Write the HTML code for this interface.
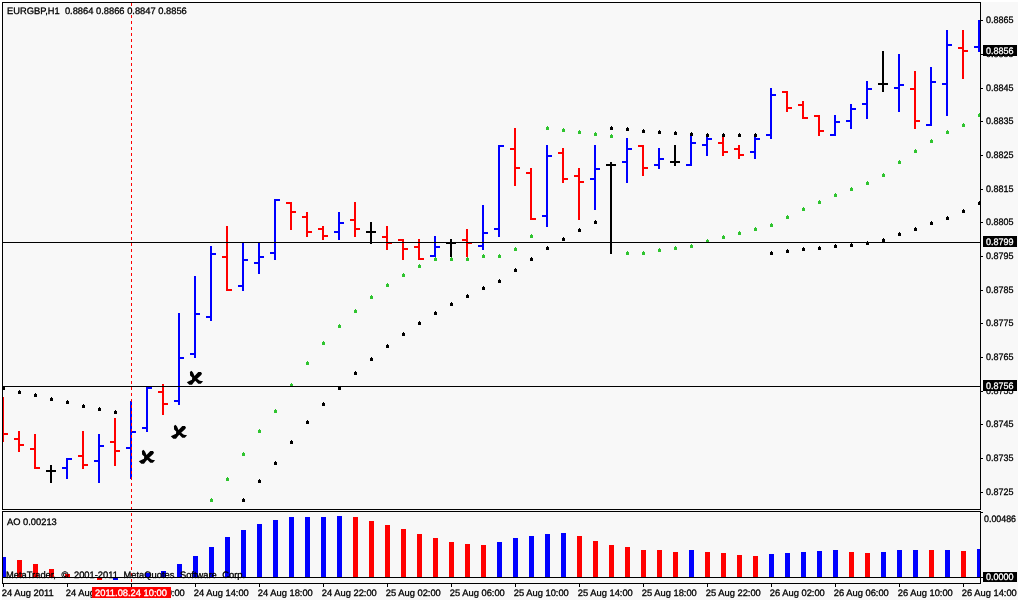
<!DOCTYPE html>
<html lang="en"><head><meta charset="utf-8"><title>EURGBP,H1</title>
<style>html,body{margin:0;padding:0;background:#f8f8f8;overflow:hidden}svg{display:block}text{text-rendering:geometricPrecision}</style>
</head><body>
<svg width="1018" height="600" viewBox="0 0 1018 600" shape-rendering="crispEdges">
<rect x="0" y="0" width="1018" height="600" fill="#f8f8f8"/>
<rect x="0" y="0" width="1018" height="2" fill="#ffffff"/>
<rect x="0" y="0" width="2" height="600" fill="#ffffff"/>
<defs><clipPath id="cm"><rect x="3" y="3" width="977" height="506"/></clipPath><clipPath id="ca"><rect x="3" y="512" width="977" height="71"/></clipPath></defs>
<rect x="2" y="2" width="979" height="1" fill="#000000"/>
<rect x="2" y="2" width="1" height="508" fill="#000000"/>
<rect x="980" y="2" width="1" height="508" fill="#000000"/>
<rect x="2" y="509" width="979" height="1" fill="#000000"/>
<rect x="2" y="511" width="979" height="1" fill="#000000"/>
<rect x="2" y="511" width="1" height="73" fill="#000000"/>
<rect x="980" y="511" width="1" height="73" fill="#000000"/>
<rect x="2" y="583" width="979" height="1" fill="#000000"/>
<g clip-path="url(#cm)">
<rect x="2" y="397" width="2" height="45" fill="#ff0000"/>
<rect x="4" y="433" width="4" height="2" fill="#ff0000"/>
<rect x="18" y="431" width="2" height="21" fill="#ff0000"/>
<rect x="14" y="438" width="4" height="2" fill="#ff0000"/>
<rect x="20" y="444" width="4" height="2" fill="#ff0000"/>
<rect x="34" y="434" width="2" height="35" fill="#ff0000"/>
<rect x="30" y="448" width="4" height="2" fill="#ff0000"/>
<rect x="36" y="467" width="4" height="2" fill="#ff0000"/>
<rect x="50" y="465" width="2" height="18" fill="#000000"/>
<rect x="46" y="470" width="4" height="2" fill="#000000"/>
<rect x="52" y="470" width="4" height="2" fill="#000000"/>
<rect x="66" y="458" width="2" height="21" fill="#0000ff"/>
<rect x="62" y="467" width="4" height="2" fill="#0000ff"/>
<rect x="68" y="458" width="4" height="2" fill="#0000ff"/>
<rect x="82" y="431" width="2" height="38" fill="#ff0000"/>
<rect x="78" y="455" width="4" height="2" fill="#ff0000"/>
<rect x="84" y="464" width="4" height="2" fill="#ff0000"/>
<rect x="98" y="434" width="2" height="49" fill="#0000ff"/>
<rect x="94" y="460" width="4" height="2" fill="#0000ff"/>
<rect x="100" y="445" width="4" height="2" fill="#0000ff"/>
<rect x="114" y="418" width="2" height="48" fill="#ff0000"/>
<rect x="110" y="441" width="4" height="2" fill="#ff0000"/>
<rect x="116" y="450" width="4" height="2" fill="#ff0000"/>
<rect x="130" y="401" width="2" height="78" fill="#0000ff"/>
<rect x="126" y="447" width="4" height="2" fill="#0000ff"/>
<rect x="132" y="431" width="4" height="2" fill="#0000ff"/>
<rect x="146" y="387" width="2" height="45" fill="#0000ff"/>
<rect x="142" y="427" width="4" height="2" fill="#0000ff"/>
<rect x="148" y="387" width="4" height="2" fill="#0000ff"/>
<rect x="162" y="384" width="2" height="31" fill="#ff0000"/>
<rect x="158" y="391" width="4" height="2" fill="#ff0000"/>
<rect x="164" y="403" width="4" height="2" fill="#ff0000"/>
<rect x="178" y="313" width="2" height="92" fill="#0000ff"/>
<rect x="174" y="400" width="4" height="2" fill="#0000ff"/>
<rect x="180" y="357" width="4" height="2" fill="#0000ff"/>
<rect x="194" y="276" width="2" height="82" fill="#0000ff"/>
<rect x="190" y="353" width="4" height="2" fill="#0000ff"/>
<rect x="196" y="313" width="4" height="2" fill="#0000ff"/>
<rect x="210" y="246" width="2" height="75" fill="#0000ff"/>
<rect x="206" y="316" width="4" height="2" fill="#0000ff"/>
<rect x="212" y="253" width="4" height="2" fill="#0000ff"/>
<rect x="226" y="226" width="2" height="65" fill="#ff0000"/>
<rect x="222" y="256" width="4" height="2" fill="#ff0000"/>
<rect x="228" y="289" width="4" height="2" fill="#ff0000"/>
<rect x="242" y="243" width="2" height="48" fill="#0000ff"/>
<rect x="238" y="285" width="4" height="2" fill="#0000ff"/>
<rect x="244" y="259" width="4" height="2" fill="#0000ff"/>
<rect x="258" y="243" width="2" height="31" fill="#0000ff"/>
<rect x="254" y="262" width="4" height="2" fill="#0000ff"/>
<rect x="260" y="256" width="4" height="2" fill="#0000ff"/>
<rect x="274" y="199" width="2" height="61" fill="#0000ff"/>
<rect x="270" y="252" width="4" height="2" fill="#0000ff"/>
<rect x="276" y="199" width="4" height="2" fill="#0000ff"/>
<rect x="290" y="202" width="2" height="28" fill="#ff0000"/>
<rect x="286" y="202" width="4" height="2" fill="#ff0000"/>
<rect x="292" y="211" width="4" height="2" fill="#ff0000"/>
<rect x="306" y="212" width="2" height="25" fill="#ff0000"/>
<rect x="302" y="216" width="4" height="2" fill="#ff0000"/>
<rect x="308" y="231" width="4" height="2" fill="#ff0000"/>
<rect x="322" y="226" width="2" height="14" fill="#ff0000"/>
<rect x="318" y="228" width="4" height="2" fill="#ff0000"/>
<rect x="324" y="235" width="4" height="2" fill="#ff0000"/>
<rect x="338" y="212" width="2" height="28" fill="#0000ff"/>
<rect x="334" y="231" width="4" height="2" fill="#0000ff"/>
<rect x="340" y="222" width="4" height="2" fill="#0000ff"/>
<rect x="354" y="202" width="2" height="35" fill="#ff0000"/>
<rect x="350" y="219" width="4" height="2" fill="#ff0000"/>
<rect x="356" y="228" width="4" height="2" fill="#ff0000"/>
<rect x="370" y="222" width="2" height="22" fill="#000000"/>
<rect x="366" y="231" width="4" height="2" fill="#000000"/>
<rect x="372" y="231" width="4" height="2" fill="#000000"/>
<rect x="386" y="226" width="2" height="24" fill="#ff0000"/>
<rect x="382" y="236" width="4" height="2" fill="#ff0000"/>
<rect x="388" y="242" width="4" height="2" fill="#ff0000"/>
<rect x="402" y="239" width="2" height="21" fill="#ff0000"/>
<rect x="398" y="239" width="4" height="2" fill="#ff0000"/>
<rect x="404" y="248" width="4" height="2" fill="#ff0000"/>
<rect x="418" y="239" width="2" height="21" fill="#ff0000"/>
<rect x="414" y="246" width="4" height="2" fill="#ff0000"/>
<rect x="420" y="258" width="4" height="2" fill="#ff0000"/>
<rect x="434" y="236" width="2" height="21" fill="#0000ff"/>
<rect x="430" y="255" width="4" height="2" fill="#0000ff"/>
<rect x="436" y="246" width="4" height="2" fill="#0000ff"/>
<rect x="450" y="239" width="2" height="18" fill="#000000"/>
<rect x="446" y="242" width="4" height="2" fill="#000000"/>
<rect x="452" y="242" width="4" height="2" fill="#000000"/>
<rect x="466" y="229" width="2" height="28" fill="#ff0000"/>
<rect x="462" y="239" width="4" height="2" fill="#ff0000"/>
<rect x="468" y="242" width="4" height="2" fill="#ff0000"/>
<rect x="482" y="205" width="2" height="45" fill="#0000ff"/>
<rect x="478" y="245" width="4" height="2" fill="#0000ff"/>
<rect x="484" y="232" width="4" height="2" fill="#0000ff"/>
<rect x="498" y="145" width="2" height="92" fill="#0000ff"/>
<rect x="494" y="228" width="4" height="2" fill="#0000ff"/>
<rect x="500" y="145" width="4" height="2" fill="#0000ff"/>
<rect x="514" y="128" width="2" height="58" fill="#ff0000"/>
<rect x="510" y="148" width="4" height="2" fill="#ff0000"/>
<rect x="516" y="167" width="4" height="2" fill="#ff0000"/>
<rect x="530" y="168" width="2" height="52" fill="#ff0000"/>
<rect x="526" y="172" width="4" height="2" fill="#ff0000"/>
<rect x="532" y="218" width="4" height="2" fill="#ff0000"/>
<rect x="546" y="145" width="2" height="82" fill="#0000ff"/>
<rect x="542" y="215" width="4" height="2" fill="#0000ff"/>
<rect x="548" y="155" width="4" height="2" fill="#0000ff"/>
<rect x="562" y="148" width="2" height="35" fill="#ff0000"/>
<rect x="558" y="152" width="4" height="2" fill="#ff0000"/>
<rect x="564" y="178" width="4" height="2" fill="#ff0000"/>
<rect x="578" y="168" width="2" height="52" fill="#ff0000"/>
<rect x="574" y="175" width="4" height="2" fill="#ff0000"/>
<rect x="580" y="181" width="4" height="2" fill="#ff0000"/>
<rect x="594" y="145" width="2" height="65" fill="#0000ff"/>
<rect x="590" y="178" width="4" height="2" fill="#0000ff"/>
<rect x="596" y="168" width="4" height="2" fill="#0000ff"/>
<rect x="610" y="162" width="2" height="92" fill="#000000"/>
<rect x="606" y="164" width="4" height="2" fill="#000000"/>
<rect x="612" y="164" width="4" height="2" fill="#000000"/>
<rect x="626" y="138" width="2" height="45" fill="#0000ff"/>
<rect x="622" y="161" width="4" height="2" fill="#0000ff"/>
<rect x="628" y="148" width="4" height="2" fill="#0000ff"/>
<rect x="642" y="145" width="2" height="31" fill="#ff0000"/>
<rect x="638" y="145" width="4" height="2" fill="#ff0000"/>
<rect x="644" y="167" width="4" height="2" fill="#ff0000"/>
<rect x="658" y="148" width="2" height="21" fill="#0000ff"/>
<rect x="654" y="164" width="4" height="2" fill="#0000ff"/>
<rect x="660" y="158" width="4" height="2" fill="#0000ff"/>
<rect x="674" y="145" width="2" height="21" fill="#000000"/>
<rect x="670" y="161" width="4" height="2" fill="#000000"/>
<rect x="676" y="161" width="4" height="2" fill="#000000"/>
<rect x="690" y="133" width="2" height="33" fill="#0000ff"/>
<rect x="686" y="164" width="4" height="2" fill="#0000ff"/>
<rect x="692" y="142" width="4" height="2" fill="#0000ff"/>
<rect x="706" y="137" width="2" height="19" fill="#0000ff"/>
<rect x="702" y="144" width="4" height="2" fill="#0000ff"/>
<rect x="708" y="138" width="4" height="2" fill="#0000ff"/>
<rect x="722" y="135" width="2" height="21" fill="#ff0000"/>
<rect x="718" y="142" width="4" height="2" fill="#ff0000"/>
<rect x="724" y="151" width="4" height="2" fill="#ff0000"/>
<rect x="738" y="145" width="2" height="14" fill="#ff0000"/>
<rect x="734" y="148" width="4" height="2" fill="#ff0000"/>
<rect x="740" y="154" width="4" height="2" fill="#ff0000"/>
<rect x="754" y="137" width="2" height="22" fill="#0000ff"/>
<rect x="750" y="151" width="4" height="2" fill="#0000ff"/>
<rect x="756" y="138" width="4" height="2" fill="#0000ff"/>
<rect x="770" y="88" width="2" height="51" fill="#0000ff"/>
<rect x="766" y="134" width="4" height="2" fill="#0000ff"/>
<rect x="772" y="94" width="4" height="2" fill="#0000ff"/>
<rect x="786" y="91" width="2" height="21" fill="#ff0000"/>
<rect x="782" y="91" width="4" height="2" fill="#ff0000"/>
<rect x="788" y="107" width="4" height="2" fill="#ff0000"/>
<rect x="802" y="101" width="2" height="18" fill="#ff0000"/>
<rect x="798" y="104" width="4" height="2" fill="#ff0000"/>
<rect x="804" y="117" width="4" height="2" fill="#ff0000"/>
<rect x="818" y="115" width="2" height="21" fill="#ff0000"/>
<rect x="814" y="115" width="4" height="2" fill="#ff0000"/>
<rect x="820" y="130" width="4" height="2" fill="#ff0000"/>
<rect x="834" y="115" width="2" height="21" fill="#0000ff"/>
<rect x="830" y="134" width="4" height="2" fill="#0000ff"/>
<rect x="836" y="121" width="4" height="2" fill="#0000ff"/>
<rect x="850" y="104" width="2" height="25" fill="#0000ff"/>
<rect x="846" y="120" width="4" height="2" fill="#0000ff"/>
<rect x="852" y="108" width="4" height="2" fill="#0000ff"/>
<rect x="866" y="81" width="2" height="38" fill="#0000ff"/>
<rect x="862" y="103" width="4" height="2" fill="#0000ff"/>
<rect x="868" y="88" width="4" height="2" fill="#0000ff"/>
<rect x="882" y="51" width="2" height="41" fill="#000000"/>
<rect x="878" y="83" width="4" height="2" fill="#000000"/>
<rect x="884" y="83" width="4" height="2" fill="#000000"/>
<rect x="898" y="54" width="2" height="58" fill="#0000ff"/>
<rect x="894" y="87" width="4" height="2" fill="#0000ff"/>
<rect x="900" y="84" width="4" height="2" fill="#0000ff"/>
<rect x="914" y="71" width="2" height="58" fill="#ff0000"/>
<rect x="910" y="88" width="4" height="2" fill="#ff0000"/>
<rect x="916" y="120" width="4" height="2" fill="#ff0000"/>
<rect x="930" y="67" width="2" height="59" fill="#0000ff"/>
<rect x="926" y="124" width="4" height="2" fill="#0000ff"/>
<rect x="932" y="81" width="4" height="2" fill="#0000ff"/>
<rect x="946" y="30" width="2" height="86" fill="#0000ff"/>
<rect x="942" y="83" width="4" height="2" fill="#0000ff"/>
<rect x="948" y="44" width="4" height="2" fill="#0000ff"/>
<rect x="962" y="30" width="2" height="49" fill="#ff0000"/>
<rect x="958" y="47" width="4" height="2" fill="#ff0000"/>
<rect x="964" y="50" width="4" height="2" fill="#ff0000"/>
<rect x="978" y="20" width="2" height="32" fill="#0000ff"/>
<rect x="974" y="46" width="4" height="2" fill="#0000ff"/>
<rect x="211" y="498" width="1" height="1" fill="#2fc42f"/>
<rect x="210" y="499" width="3" height="3" fill="#2fc42f"/>
<rect x="227" y="477" width="1" height="1" fill="#2fc42f"/>
<rect x="226" y="478" width="3" height="3" fill="#2fc42f"/>
<rect x="243" y="452" width="1" height="1" fill="#2fc42f"/>
<rect x="242" y="453" width="3" height="3" fill="#2fc42f"/>
<rect x="259" y="429" width="1" height="1" fill="#2fc42f"/>
<rect x="258" y="430" width="3" height="3" fill="#2fc42f"/>
<rect x="275" y="409" width="1" height="1" fill="#2fc42f"/>
<rect x="274" y="410" width="3" height="3" fill="#2fc42f"/>
<rect x="291" y="383" width="1" height="1" fill="#2fc42f"/>
<rect x="290" y="384" width="3" height="3" fill="#2fc42f"/>
<rect x="307" y="361" width="1" height="1" fill="#2fc42f"/>
<rect x="306" y="362" width="3" height="3" fill="#2fc42f"/>
<rect x="323" y="341" width="1" height="1" fill="#2fc42f"/>
<rect x="322" y="342" width="3" height="3" fill="#2fc42f"/>
<rect x="339" y="324" width="1" height="1" fill="#2fc42f"/>
<rect x="338" y="325" width="3" height="3" fill="#2fc42f"/>
<rect x="355" y="309" width="1" height="1" fill="#2fc42f"/>
<rect x="354" y="310" width="3" height="3" fill="#2fc42f"/>
<rect x="371" y="295" width="1" height="1" fill="#2fc42f"/>
<rect x="370" y="296" width="3" height="3" fill="#2fc42f"/>
<rect x="387" y="283" width="1" height="1" fill="#2fc42f"/>
<rect x="386" y="284" width="3" height="3" fill="#2fc42f"/>
<rect x="403" y="273" width="1" height="1" fill="#2fc42f"/>
<rect x="402" y="274" width="3" height="3" fill="#2fc42f"/>
<rect x="419" y="264" width="1" height="1" fill="#2fc42f"/>
<rect x="418" y="265" width="3" height="3" fill="#2fc42f"/>
<rect x="435" y="257" width="1" height="1" fill="#2fc42f"/>
<rect x="434" y="258" width="3" height="3" fill="#2fc42f"/>
<rect x="451" y="257" width="1" height="1" fill="#2fc42f"/>
<rect x="450" y="258" width="3" height="3" fill="#2fc42f"/>
<rect x="467" y="257" width="1" height="1" fill="#2fc42f"/>
<rect x="466" y="258" width="3" height="3" fill="#2fc42f"/>
<rect x="483" y="254" width="1" height="1" fill="#2fc42f"/>
<rect x="482" y="255" width="3" height="3" fill="#2fc42f"/>
<rect x="499" y="254" width="1" height="1" fill="#2fc42f"/>
<rect x="498" y="255" width="3" height="3" fill="#2fc42f"/>
<rect x="515" y="247" width="1" height="1" fill="#2fc42f"/>
<rect x="514" y="248" width="3" height="3" fill="#2fc42f"/>
<rect x="531" y="234" width="1" height="1" fill="#2fc42f"/>
<rect x="530" y="235" width="3" height="3" fill="#2fc42f"/>
<rect x="547" y="126" width="1" height="1" fill="#2fc42f"/>
<rect x="546" y="127" width="3" height="3" fill="#2fc42f"/>
<rect x="563" y="128" width="1" height="1" fill="#2fc42f"/>
<rect x="562" y="129" width="3" height="3" fill="#2fc42f"/>
<rect x="579" y="130" width="1" height="1" fill="#2fc42f"/>
<rect x="578" y="131" width="3" height="3" fill="#2fc42f"/>
<rect x="595" y="132" width="1" height="1" fill="#2fc42f"/>
<rect x="594" y="133" width="3" height="3" fill="#2fc42f"/>
<rect x="611" y="134" width="1" height="1" fill="#2fc42f"/>
<rect x="610" y="135" width="3" height="3" fill="#2fc42f"/>
<rect x="627" y="251" width="1" height="1" fill="#2fc42f"/>
<rect x="626" y="252" width="3" height="3" fill="#2fc42f"/>
<rect x="643" y="251" width="1" height="1" fill="#2fc42f"/>
<rect x="642" y="252" width="3" height="3" fill="#2fc42f"/>
<rect x="659" y="248" width="1" height="1" fill="#2fc42f"/>
<rect x="658" y="249" width="3" height="3" fill="#2fc42f"/>
<rect x="675" y="246" width="1" height="1" fill="#2fc42f"/>
<rect x="674" y="247" width="3" height="3" fill="#2fc42f"/>
<rect x="691" y="244" width="1" height="1" fill="#2fc42f"/>
<rect x="690" y="245" width="3" height="3" fill="#2fc42f"/>
<rect x="707" y="239" width="1" height="1" fill="#2fc42f"/>
<rect x="706" y="240" width="3" height="3" fill="#2fc42f"/>
<rect x="723" y="235" width="1" height="1" fill="#2fc42f"/>
<rect x="722" y="236" width="3" height="3" fill="#2fc42f"/>
<rect x="739" y="231" width="1" height="1" fill="#2fc42f"/>
<rect x="738" y="232" width="3" height="3" fill="#2fc42f"/>
<rect x="755" y="227" width="1" height="1" fill="#2fc42f"/>
<rect x="754" y="228" width="3" height="3" fill="#2fc42f"/>
<rect x="771" y="223" width="1" height="1" fill="#2fc42f"/>
<rect x="770" y="224" width="3" height="3" fill="#2fc42f"/>
<rect x="787" y="215" width="1" height="1" fill="#2fc42f"/>
<rect x="786" y="216" width="3" height="3" fill="#2fc42f"/>
<rect x="803" y="207" width="1" height="1" fill="#2fc42f"/>
<rect x="802" y="208" width="3" height="3" fill="#2fc42f"/>
<rect x="819" y="200" width="1" height="1" fill="#2fc42f"/>
<rect x="818" y="201" width="3" height="3" fill="#2fc42f"/>
<rect x="835" y="193" width="1" height="1" fill="#2fc42f"/>
<rect x="834" y="194" width="3" height="3" fill="#2fc42f"/>
<rect x="851" y="187" width="1" height="1" fill="#2fc42f"/>
<rect x="850" y="188" width="3" height="3" fill="#2fc42f"/>
<rect x="867" y="181" width="1" height="1" fill="#2fc42f"/>
<rect x="866" y="182" width="3" height="3" fill="#2fc42f"/>
<rect x="883" y="173" width="1" height="1" fill="#2fc42f"/>
<rect x="882" y="174" width="3" height="3" fill="#2fc42f"/>
<rect x="899" y="160" width="1" height="1" fill="#2fc42f"/>
<rect x="898" y="161" width="3" height="3" fill="#2fc42f"/>
<rect x="915" y="149" width="1" height="1" fill="#2fc42f"/>
<rect x="914" y="150" width="3" height="3" fill="#2fc42f"/>
<rect x="931" y="139" width="1" height="1" fill="#2fc42f"/>
<rect x="930" y="140" width="3" height="3" fill="#2fc42f"/>
<rect x="947" y="130" width="1" height="1" fill="#2fc42f"/>
<rect x="946" y="131" width="3" height="3" fill="#2fc42f"/>
<rect x="963" y="123" width="1" height="1" fill="#2fc42f"/>
<rect x="962" y="124" width="3" height="3" fill="#2fc42f"/>
<rect x="979" y="113" width="1" height="1" fill="#2fc42f"/>
<rect x="978" y="114" width="3" height="3" fill="#2fc42f"/>
<rect x="3" y="386" width="1" height="1" fill="#000000"/>
<rect x="2" y="387" width="3" height="3" fill="#000000"/>
<rect x="19" y="390" width="1" height="1" fill="#000000"/>
<rect x="18" y="391" width="3" height="3" fill="#000000"/>
<rect x="35" y="393" width="1" height="1" fill="#000000"/>
<rect x="34" y="394" width="3" height="3" fill="#000000"/>
<rect x="51" y="397" width="1" height="1" fill="#000000"/>
<rect x="50" y="398" width="3" height="3" fill="#000000"/>
<rect x="67" y="400" width="1" height="1" fill="#000000"/>
<rect x="66" y="401" width="3" height="3" fill="#000000"/>
<rect x="83" y="404" width="1" height="1" fill="#000000"/>
<rect x="82" y="405" width="3" height="3" fill="#000000"/>
<rect x="99" y="407" width="1" height="1" fill="#000000"/>
<rect x="98" y="408" width="3" height="3" fill="#000000"/>
<rect x="115" y="410" width="1" height="1" fill="#000000"/>
<rect x="114" y="411" width="3" height="3" fill="#000000"/>
<rect x="243" y="498" width="1" height="1" fill="#000000"/>
<rect x="242" y="499" width="3" height="3" fill="#000000"/>
<rect x="259" y="479" width="1" height="1" fill="#000000"/>
<rect x="258" y="480" width="3" height="3" fill="#000000"/>
<rect x="275" y="461" width="1" height="1" fill="#000000"/>
<rect x="274" y="462" width="3" height="3" fill="#000000"/>
<rect x="291" y="440" width="1" height="1" fill="#000000"/>
<rect x="290" y="441" width="3" height="3" fill="#000000"/>
<rect x="307" y="420" width="1" height="1" fill="#000000"/>
<rect x="306" y="421" width="3" height="3" fill="#000000"/>
<rect x="323" y="402" width="1" height="1" fill="#000000"/>
<rect x="322" y="403" width="3" height="3" fill="#000000"/>
<rect x="339" y="386" width="1" height="1" fill="#000000"/>
<rect x="338" y="387" width="3" height="3" fill="#000000"/>
<rect x="355" y="371" width="1" height="1" fill="#000000"/>
<rect x="354" y="372" width="3" height="3" fill="#000000"/>
<rect x="371" y="357" width="1" height="1" fill="#000000"/>
<rect x="370" y="358" width="3" height="3" fill="#000000"/>
<rect x="387" y="344" width="1" height="1" fill="#000000"/>
<rect x="386" y="345" width="3" height="3" fill="#000000"/>
<rect x="403" y="332" width="1" height="1" fill="#000000"/>
<rect x="402" y="333" width="3" height="3" fill="#000000"/>
<rect x="419" y="321" width="1" height="1" fill="#000000"/>
<rect x="418" y="322" width="3" height="3" fill="#000000"/>
<rect x="435" y="311" width="1" height="1" fill="#000000"/>
<rect x="434" y="312" width="3" height="3" fill="#000000"/>
<rect x="451" y="302" width="1" height="1" fill="#000000"/>
<rect x="450" y="303" width="3" height="3" fill="#000000"/>
<rect x="467" y="294" width="1" height="1" fill="#000000"/>
<rect x="466" y="295" width="3" height="3" fill="#000000"/>
<rect x="483" y="286" width="1" height="1" fill="#000000"/>
<rect x="482" y="287" width="3" height="3" fill="#000000"/>
<rect x="499" y="279" width="1" height="1" fill="#000000"/>
<rect x="498" y="280" width="3" height="3" fill="#000000"/>
<rect x="515" y="268" width="1" height="1" fill="#000000"/>
<rect x="514" y="269" width="3" height="3" fill="#000000"/>
<rect x="531" y="257" width="1" height="1" fill="#000000"/>
<rect x="530" y="258" width="3" height="3" fill="#000000"/>
<rect x="547" y="246" width="1" height="1" fill="#000000"/>
<rect x="546" y="247" width="3" height="3" fill="#000000"/>
<rect x="563" y="237" width="1" height="1" fill="#000000"/>
<rect x="562" y="238" width="3" height="3" fill="#000000"/>
<rect x="579" y="228" width="1" height="1" fill="#000000"/>
<rect x="578" y="229" width="3" height="3" fill="#000000"/>
<rect x="595" y="220" width="1" height="1" fill="#000000"/>
<rect x="594" y="221" width="3" height="3" fill="#000000"/>
<rect x="611" y="126" width="1" height="1" fill="#000000"/>
<rect x="610" y="127" width="3" height="3" fill="#000000"/>
<rect x="627" y="127" width="1" height="1" fill="#000000"/>
<rect x="626" y="128" width="3" height="3" fill="#000000"/>
<rect x="643" y="129" width="1" height="1" fill="#000000"/>
<rect x="642" y="130" width="3" height="3" fill="#000000"/>
<rect x="659" y="130" width="1" height="1" fill="#000000"/>
<rect x="658" y="131" width="3" height="3" fill="#000000"/>
<rect x="675" y="131" width="1" height="1" fill="#000000"/>
<rect x="674" y="132" width="3" height="3" fill="#000000"/>
<rect x="691" y="132" width="1" height="1" fill="#000000"/>
<rect x="690" y="133" width="3" height="3" fill="#000000"/>
<rect x="707" y="133" width="1" height="1" fill="#000000"/>
<rect x="706" y="134" width="3" height="3" fill="#000000"/>
<rect x="723" y="133" width="1" height="1" fill="#000000"/>
<rect x="722" y="134" width="3" height="3" fill="#000000"/>
<rect x="739" y="133" width="1" height="1" fill="#000000"/>
<rect x="738" y="134" width="3" height="3" fill="#000000"/>
<rect x="755" y="133" width="1" height="1" fill="#000000"/>
<rect x="754" y="134" width="3" height="3" fill="#000000"/>
<rect x="771" y="251" width="1" height="1" fill="#000000"/>
<rect x="770" y="252" width="3" height="3" fill="#000000"/>
<rect x="787" y="249" width="1" height="1" fill="#000000"/>
<rect x="786" y="250" width="3" height="3" fill="#000000"/>
<rect x="803" y="247" width="1" height="1" fill="#000000"/>
<rect x="802" y="248" width="3" height="3" fill="#000000"/>
<rect x="819" y="246" width="1" height="1" fill="#000000"/>
<rect x="818" y="247" width="3" height="3" fill="#000000"/>
<rect x="835" y="244" width="1" height="1" fill="#000000"/>
<rect x="834" y="245" width="3" height="3" fill="#000000"/>
<rect x="851" y="243" width="1" height="1" fill="#000000"/>
<rect x="850" y="244" width="3" height="3" fill="#000000"/>
<rect x="867" y="241" width="1" height="1" fill="#000000"/>
<rect x="866" y="242" width="3" height="3" fill="#000000"/>
<rect x="883" y="238" width="1" height="1" fill="#000000"/>
<rect x="882" y="239" width="3" height="3" fill="#000000"/>
<rect x="899" y="232" width="1" height="1" fill="#000000"/>
<rect x="898" y="233" width="3" height="3" fill="#000000"/>
<rect x="915" y="227" width="1" height="1" fill="#000000"/>
<rect x="914" y="228" width="3" height="3" fill="#000000"/>
<rect x="931" y="221" width="1" height="1" fill="#000000"/>
<rect x="930" y="222" width="3" height="3" fill="#000000"/>
<rect x="947" y="216" width="1" height="1" fill="#000000"/>
<rect x="946" y="217" width="3" height="3" fill="#000000"/>
<rect x="963" y="209" width="1" height="1" fill="#000000"/>
<rect x="962" y="210" width="3" height="3" fill="#000000"/>
<rect x="979" y="201" width="1" height="1" fill="#000000"/>
<rect x="978" y="202" width="3" height="3" fill="#000000"/>
<rect x="3" y="242" width="977" height="1" fill="#000000"/>
<rect x="3" y="386" width="977" height="1" fill="#000000"/>
</g>
<g clip-path="url(#ca)">
<rect x="1" y="557" width="5" height="20" fill="#0000ff"/>
<rect x="17" y="560" width="5" height="17" fill="#ff0000"/>
<rect x="33" y="564" width="5" height="13" fill="#ff0000"/>
<rect x="49" y="569" width="5" height="8" fill="#ff0000"/>
<rect x="65" y="574" width="5" height="3" fill="#ff0000"/>
<rect x="81" y="577" width="5" height="0" fill="#ff0000"/>
<rect x="97" y="577" width="5" height="3" fill="#ff0000"/>
<rect x="113" y="577" width="5" height="3" fill="#0000ff"/>
<rect x="129" y="577" width="5" height="0" fill="#0000ff"/>
<rect x="145" y="573" width="5" height="4" fill="#0000ff"/>
<rect x="161" y="571" width="5" height="6" fill="#0000ff"/>
<rect x="177" y="564" width="5" height="13" fill="#0000ff"/>
<rect x="193" y="556" width="5" height="21" fill="#0000ff"/>
<rect x="209" y="547" width="5" height="30" fill="#0000ff"/>
<rect x="225" y="537" width="5" height="40" fill="#0000ff"/>
<rect x="241" y="530" width="5" height="47" fill="#0000ff"/>
<rect x="257" y="524" width="5" height="53" fill="#0000ff"/>
<rect x="273" y="520" width="5" height="57" fill="#0000ff"/>
<rect x="289" y="517" width="5" height="60" fill="#0000ff"/>
<rect x="305" y="517" width="5" height="60" fill="#0000ff"/>
<rect x="321" y="517" width="5" height="60" fill="#0000ff"/>
<rect x="337" y="516" width="5" height="61" fill="#0000ff"/>
<rect x="353" y="517" width="5" height="60" fill="#ff0000"/>
<rect x="369" y="521" width="5" height="56" fill="#ff0000"/>
<rect x="385" y="525" width="5" height="52" fill="#ff0000"/>
<rect x="401" y="529" width="5" height="48" fill="#ff0000"/>
<rect x="417" y="534" width="5" height="43" fill="#ff0000"/>
<rect x="433" y="538" width="5" height="39" fill="#ff0000"/>
<rect x="449" y="542" width="5" height="35" fill="#ff0000"/>
<rect x="465" y="544" width="5" height="33" fill="#ff0000"/>
<rect x="481" y="545" width="5" height="32" fill="#ff0000"/>
<rect x="497" y="542" width="5" height="35" fill="#0000ff"/>
<rect x="513" y="538" width="5" height="39" fill="#0000ff"/>
<rect x="529" y="536" width="5" height="41" fill="#0000ff"/>
<rect x="545" y="534" width="5" height="43" fill="#0000ff"/>
<rect x="561" y="533" width="5" height="44" fill="#0000ff"/>
<rect x="577" y="536" width="5" height="41" fill="#ff0000"/>
<rect x="593" y="541" width="5" height="36" fill="#ff0000"/>
<rect x="609" y="545" width="5" height="32" fill="#ff0000"/>
<rect x="625" y="547" width="5" height="30" fill="#ff0000"/>
<rect x="641" y="550" width="5" height="27" fill="#ff0000"/>
<rect x="657" y="550" width="5" height="27" fill="#ff0000"/>
<rect x="673" y="552" width="5" height="25" fill="#ff0000"/>
<rect x="689" y="550" width="5" height="27" fill="#0000ff"/>
<rect x="705" y="552" width="5" height="25" fill="#ff0000"/>
<rect x="721" y="553" width="5" height="24" fill="#ff0000"/>
<rect x="737" y="555" width="5" height="22" fill="#ff0000"/>
<rect x="753" y="556" width="5" height="21" fill="#ff0000"/>
<rect x="769" y="554" width="5" height="23" fill="#0000ff"/>
<rect x="785" y="553" width="5" height="24" fill="#0000ff"/>
<rect x="801" y="552" width="5" height="25" fill="#0000ff"/>
<rect x="817" y="551" width="5" height="26" fill="#0000ff"/>
<rect x="833" y="550" width="5" height="27" fill="#0000ff"/>
<rect x="849" y="552" width="5" height="25" fill="#ff0000"/>
<rect x="865" y="553" width="5" height="24" fill="#ff0000"/>
<rect x="881" y="552" width="5" height="25" fill="#0000ff"/>
<rect x="897" y="550" width="5" height="27" fill="#0000ff"/>
<rect x="913" y="550" width="5" height="27" fill="#0000ff"/>
<rect x="929" y="550" width="5" height="27" fill="#ff0000"/>
<rect x="945" y="550" width="5" height="27" fill="#0000ff"/>
<rect x="961" y="551" width="5" height="26" fill="#ff0000"/>
<rect x="977" y="549" width="5" height="28" fill="#0000ff"/>
<rect x="3" y="577" width="977" height="1" fill="#000000"/>
</g>
<rect x="131" y="3" width="1" height="3" fill="#ff0000"/>
<rect x="131" y="9" width="1" height="3" fill="#ff0000"/>
<rect x="131" y="15" width="1" height="3" fill="#ff0000"/>
<rect x="131" y="21" width="1" height="3" fill="#ff0000"/>
<rect x="131" y="27" width="1" height="3" fill="#ff0000"/>
<rect x="131" y="33" width="1" height="3" fill="#ff0000"/>
<rect x="131" y="39" width="1" height="3" fill="#ff0000"/>
<rect x="131" y="45" width="1" height="3" fill="#ff0000"/>
<rect x="131" y="51" width="1" height="3" fill="#ff0000"/>
<rect x="131" y="57" width="1" height="3" fill="#ff0000"/>
<rect x="131" y="63" width="1" height="3" fill="#ff0000"/>
<rect x="131" y="69" width="1" height="3" fill="#ff0000"/>
<rect x="131" y="75" width="1" height="3" fill="#ff0000"/>
<rect x="131" y="81" width="1" height="3" fill="#ff0000"/>
<rect x="131" y="87" width="1" height="3" fill="#ff0000"/>
<rect x="131" y="93" width="1" height="3" fill="#ff0000"/>
<rect x="131" y="99" width="1" height="3" fill="#ff0000"/>
<rect x="131" y="105" width="1" height="3" fill="#ff0000"/>
<rect x="131" y="111" width="1" height="3" fill="#ff0000"/>
<rect x="131" y="117" width="1" height="3" fill="#ff0000"/>
<rect x="131" y="123" width="1" height="3" fill="#ff0000"/>
<rect x="131" y="129" width="1" height="3" fill="#ff0000"/>
<rect x="131" y="135" width="1" height="3" fill="#ff0000"/>
<rect x="131" y="141" width="1" height="3" fill="#ff0000"/>
<rect x="131" y="147" width="1" height="3" fill="#ff0000"/>
<rect x="131" y="153" width="1" height="3" fill="#ff0000"/>
<rect x="131" y="159" width="1" height="3" fill="#ff0000"/>
<rect x="131" y="165" width="1" height="3" fill="#ff0000"/>
<rect x="131" y="171" width="1" height="3" fill="#ff0000"/>
<rect x="131" y="177" width="1" height="3" fill="#ff0000"/>
<rect x="131" y="183" width="1" height="3" fill="#ff0000"/>
<rect x="131" y="189" width="1" height="3" fill="#ff0000"/>
<rect x="131" y="195" width="1" height="3" fill="#ff0000"/>
<rect x="131" y="201" width="1" height="3" fill="#ff0000"/>
<rect x="131" y="207" width="1" height="3" fill="#ff0000"/>
<rect x="131" y="213" width="1" height="3" fill="#ff0000"/>
<rect x="131" y="219" width="1" height="3" fill="#ff0000"/>
<rect x="131" y="225" width="1" height="3" fill="#ff0000"/>
<rect x="131" y="231" width="1" height="3" fill="#ff0000"/>
<rect x="131" y="237" width="1" height="3" fill="#ff0000"/>
<rect x="131" y="243" width="1" height="3" fill="#ff0000"/>
<rect x="131" y="249" width="1" height="3" fill="#ff0000"/>
<rect x="131" y="255" width="1" height="3" fill="#ff0000"/>
<rect x="131" y="261" width="1" height="3" fill="#ff0000"/>
<rect x="131" y="267" width="1" height="3" fill="#ff0000"/>
<rect x="131" y="273" width="1" height="3" fill="#ff0000"/>
<rect x="131" y="279" width="1" height="3" fill="#ff0000"/>
<rect x="131" y="285" width="1" height="3" fill="#ff0000"/>
<rect x="131" y="291" width="1" height="3" fill="#ff0000"/>
<rect x="131" y="297" width="1" height="3" fill="#ff0000"/>
<rect x="131" y="303" width="1" height="3" fill="#ff0000"/>
<rect x="131" y="309" width="1" height="3" fill="#ff0000"/>
<rect x="131" y="315" width="1" height="3" fill="#ff0000"/>
<rect x="131" y="321" width="1" height="3" fill="#ff0000"/>
<rect x="131" y="327" width="1" height="3" fill="#ff0000"/>
<rect x="131" y="333" width="1" height="3" fill="#ff0000"/>
<rect x="131" y="339" width="1" height="3" fill="#ff0000"/>
<rect x="131" y="345" width="1" height="3" fill="#ff0000"/>
<rect x="131" y="351" width="1" height="3" fill="#ff0000"/>
<rect x="131" y="357" width="1" height="3" fill="#ff0000"/>
<rect x="131" y="363" width="1" height="3" fill="#ff0000"/>
<rect x="131" y="369" width="1" height="3" fill="#ff0000"/>
<rect x="131" y="375" width="1" height="3" fill="#ff0000"/>
<rect x="131" y="381" width="1" height="3" fill="#ff0000"/>
<rect x="131" y="387" width="1" height="3" fill="#ff0000"/>
<rect x="131" y="393" width="1" height="3" fill="#ff0000"/>
<rect x="131" y="399" width="1" height="3" fill="#ff0000"/>
<rect x="131" y="405" width="1" height="3" fill="#ff0000"/>
<rect x="131" y="411" width="1" height="3" fill="#ff0000"/>
<rect x="131" y="417" width="1" height="3" fill="#ff0000"/>
<rect x="131" y="423" width="1" height="3" fill="#ff0000"/>
<rect x="131" y="429" width="1" height="3" fill="#ff0000"/>
<rect x="131" y="435" width="1" height="3" fill="#ff0000"/>
<rect x="131" y="441" width="1" height="3" fill="#ff0000"/>
<rect x="131" y="447" width="1" height="3" fill="#ff0000"/>
<rect x="131" y="453" width="1" height="3" fill="#ff0000"/>
<rect x="131" y="459" width="1" height="3" fill="#ff0000"/>
<rect x="131" y="465" width="1" height="3" fill="#ff0000"/>
<rect x="131" y="471" width="1" height="3" fill="#ff0000"/>
<rect x="131" y="477" width="1" height="3" fill="#ff0000"/>
<rect x="131" y="483" width="1" height="3" fill="#ff0000"/>
<rect x="131" y="489" width="1" height="3" fill="#ff0000"/>
<rect x="131" y="495" width="1" height="3" fill="#ff0000"/>
<rect x="131" y="501" width="1" height="3" fill="#ff0000"/>
<rect x="131" y="507" width="1" height="3" fill="#ff0000"/>
<rect x="131" y="513" width="1" height="3" fill="#ff0000"/>
<rect x="131" y="519" width="1" height="3" fill="#ff0000"/>
<rect x="131" y="525" width="1" height="3" fill="#ff0000"/>
<rect x="131" y="531" width="1" height="3" fill="#ff0000"/>
<rect x="131" y="537" width="1" height="3" fill="#ff0000"/>
<rect x="131" y="543" width="1" height="3" fill="#ff0000"/>
<rect x="131" y="549" width="1" height="3" fill="#ff0000"/>
<rect x="131" y="555" width="1" height="3" fill="#ff0000"/>
<rect x="131" y="561" width="1" height="3" fill="#ff0000"/>
<rect x="131" y="567" width="1" height="3" fill="#ff0000"/>
<rect x="131" y="573" width="1" height="3" fill="#ff0000"/>
<rect x="131" y="579" width="1" height="3" fill="#ff0000"/>
<rect x="131" y="2" width="1" height="1" fill="#000000"/>
<rect x="131" y="509" width="1" height="1" fill="#000000"/>
<rect x="131" y="511" width="1" height="1" fill="#000000"/>
<rect x="131" y="583" width="1" height="1" fill="#000000"/>
<rect x="131" y="242" width="1" height="1" fill="#000000"/>
<rect x="131" y="386" width="1" height="1" fill="#000000"/>
<rect x="131" y="577" width="1" height="1" fill="#000000"/>
<path d="M143.4 449.8 L141.9 451.1 L142.1 454.6 L144.2 456.5 L144.0 458.8 L140.8 460.3 L138.8 461.3 L141.3 463.8 L144.0 463.8 L146.1 461.1 L147.3 459.8 L150.3 462.8 L152.8 462.8 L155.1 460.3 L151.9 459.8 L149.2 457.7 L153.0 454.2 L154.0 452.7 L153.0 451.1 L150.3 450.9 L146.5 455.0 L145.0 451.5 Z" fill="#000" shape-rendering="geometricPrecision"/>
<path d="M175.4 424.8 L173.9 426.1 L174.1 429.6 L176.2 431.5 L176.0 433.8 L172.8 435.3 L170.8 436.3 L173.3 438.8 L176.0 438.8 L178.1 436.1 L179.3 434.8 L182.3 437.8 L184.8 437.8 L187.1 435.3 L183.9 434.8 L181.2 432.7 L185.0 429.2 L186.0 427.7 L185.0 426.1 L182.3 425.9 L178.5 430.0 L177.0 426.5 Z" fill="#000" shape-rendering="geometricPrecision"/>
<path d="M191.4 370.8 L189.9 372.1 L190.1 375.6 L192.2 377.5 L192.0 379.8 L188.8 381.3 L186.8 382.3 L189.3 384.8 L192.0 384.8 L194.1 382.1 L195.3 380.8 L198.3 383.8 L200.8 383.8 L203.1 381.3 L199.9 380.8 L197.2 378.7 L201.0 375.2 L202.0 373.7 L201.0 372.1 L198.3 371.9 L194.5 376.0 L193.0 372.5 Z" fill="#000" shape-rendering="geometricPrecision"/>
<rect x="981" y="20" width="2" height="1" fill="#000000"/>
<text x="986" y="22.9" font-family="Liberation Sans, Arial, sans-serif" font-size="9.33" stroke-width="0.3" fill="#000" stroke="#000" textLength="27.5" lengthAdjust="spacingAndGlyphs">0.8865</text>
<rect x="981" y="54" width="2" height="1" fill="#000000"/>
<text x="986" y="56.9" font-family="Liberation Sans, Arial, sans-serif" font-size="9.33" stroke-width="0.3" fill="#000" stroke="#000" textLength="27.5" lengthAdjust="spacingAndGlyphs">0.8855</text>
<rect x="981" y="88" width="2" height="1" fill="#000000"/>
<text x="986" y="90.9" font-family="Liberation Sans, Arial, sans-serif" font-size="9.33" stroke-width="0.3" fill="#000" stroke="#000" textLength="27.5" lengthAdjust="spacingAndGlyphs">0.8845</text>
<rect x="981" y="121" width="2" height="1" fill="#000000"/>
<text x="986" y="123.9" font-family="Liberation Sans, Arial, sans-serif" font-size="9.33" stroke-width="0.3" fill="#000" stroke="#000" textLength="27.5" lengthAdjust="spacingAndGlyphs">0.8835</text>
<rect x="981" y="155" width="2" height="1" fill="#000000"/>
<text x="986" y="157.9" font-family="Liberation Sans, Arial, sans-serif" font-size="9.33" stroke-width="0.3" fill="#000" stroke="#000" textLength="27.5" lengthAdjust="spacingAndGlyphs">0.8825</text>
<rect x="981" y="189" width="2" height="1" fill="#000000"/>
<text x="986" y="191.9" font-family="Liberation Sans, Arial, sans-serif" font-size="9.33" stroke-width="0.3" fill="#000" stroke="#000" textLength="27.5" lengthAdjust="spacingAndGlyphs">0.8815</text>
<rect x="981" y="222" width="2" height="1" fill="#000000"/>
<text x="986" y="224.9" font-family="Liberation Sans, Arial, sans-serif" font-size="9.33" stroke-width="0.3" fill="#000" stroke="#000" textLength="27.5" lengthAdjust="spacingAndGlyphs">0.8805</text>
<rect x="981" y="256" width="2" height="1" fill="#000000"/>
<text x="986" y="258.9" font-family="Liberation Sans, Arial, sans-serif" font-size="9.33" stroke-width="0.3" fill="#000" stroke="#000" textLength="27.5" lengthAdjust="spacingAndGlyphs">0.8795</text>
<rect x="981" y="290" width="2" height="1" fill="#000000"/>
<text x="986" y="292.9" font-family="Liberation Sans, Arial, sans-serif" font-size="9.33" stroke-width="0.3" fill="#000" stroke="#000" textLength="27.5" lengthAdjust="spacingAndGlyphs">0.8785</text>
<rect x="981" y="323" width="2" height="1" fill="#000000"/>
<text x="986" y="325.9" font-family="Liberation Sans, Arial, sans-serif" font-size="9.33" stroke-width="0.3" fill="#000" stroke="#000" textLength="27.5" lengthAdjust="spacingAndGlyphs">0.8775</text>
<rect x="981" y="357" width="2" height="1" fill="#000000"/>
<text x="986" y="359.9" font-family="Liberation Sans, Arial, sans-serif" font-size="9.33" stroke-width="0.3" fill="#000" stroke="#000" textLength="27.5" lengthAdjust="spacingAndGlyphs">0.8765</text>
<rect x="981" y="391" width="2" height="1" fill="#000000"/>
<text x="986" y="393.9" font-family="Liberation Sans, Arial, sans-serif" font-size="9.33" stroke-width="0.3" fill="#000" stroke="#000" textLength="27.5" lengthAdjust="spacingAndGlyphs">0.8755</text>
<rect x="981" y="424" width="2" height="1" fill="#000000"/>
<text x="986" y="426.9" font-family="Liberation Sans, Arial, sans-serif" font-size="9.33" stroke-width="0.3" fill="#000" stroke="#000" textLength="27.5" lengthAdjust="spacingAndGlyphs">0.8745</text>
<rect x="981" y="458" width="2" height="1" fill="#000000"/>
<text x="986" y="460.9" font-family="Liberation Sans, Arial, sans-serif" font-size="9.33" stroke-width="0.3" fill="#000" stroke="#000" textLength="27.5" lengthAdjust="spacingAndGlyphs">0.8735</text>
<rect x="981" y="492" width="2" height="1" fill="#000000"/>
<text x="986" y="494.9" font-family="Liberation Sans, Arial, sans-serif" font-size="9.33" stroke-width="0.3" fill="#000" stroke="#000" textLength="27.5" lengthAdjust="spacingAndGlyphs">0.8725</text>
<rect x="983" y="45" width="34" height="11" fill="#000000"/>
<text x="986" y="53.8" font-family="Liberation Sans, Arial, sans-serif" font-size="9.33" stroke-width="0.3" fill="#fff" stroke="#fff" textLength="27.5" lengthAdjust="spacingAndGlyphs">0.8856</text>
<rect x="983" y="236" width="34" height="11" fill="#000000"/>
<text x="986" y="244.8" font-family="Liberation Sans, Arial, sans-serif" font-size="9.33" stroke-width="0.3" fill="#fff" stroke="#fff" textLength="27.5" lengthAdjust="spacingAndGlyphs">0.8799</text>
<rect x="983" y="380" width="34" height="11" fill="#000000"/>
<text x="986" y="388.8" font-family="Liberation Sans, Arial, sans-serif" font-size="9.33" stroke-width="0.3" fill="#fff" stroke="#fff" textLength="27.5" lengthAdjust="spacingAndGlyphs">0.8756</text>
<rect x="981" y="512" width="2" height="1" fill="#000000"/>
<text x="984" y="522" font-family="Liberation Sans, Arial, sans-serif" font-size="9.33" stroke-width="0.3" fill="#000" stroke="#000" textLength="32" lengthAdjust="spacingAndGlyphs">0.00486</text>
<rect x="983" y="572" width="34" height="10" fill="#000000"/>
<rect x="981" y="577" width="2" height="1" fill="#000000"/>
<text x="986" y="579.7" font-family="Liberation Sans, Arial, sans-serif" font-size="9.33" stroke-width="0.3" fill="#fff" stroke="#fff" textLength="27.5" lengthAdjust="spacingAndGlyphs">0.0000</text>
<text x="7" y="14" font-family="Liberation Sans, Arial, sans-serif" font-size="9.33" stroke-width="0.3" fill="#000" stroke="#000" xml:space="preserve">EURGBP,H1  0.8864 0.8866 0.8847 0.8856</text>
<text x="7" y="525" font-family="Liberation Sans, Arial, sans-serif" font-size="9.33" stroke-width="0.3" fill="#000" stroke="#000">AO 0.00213</text>
<text x="6" y="578" font-family="Liberation Sans, Arial, sans-serif" font-size="9.33" stroke-width="0.3" fill="#000" stroke="#000" word-spacing="3">MetaTrader, © 2001-2011 MetaQuotes Software Corp.</text>
<rect x="3" y="584" width="1" height="3" fill="#000000"/>
<text x="1.8" y="596" font-family="Liberation Sans, Arial, sans-serif" font-size="9.33" stroke-width="0.3" fill="#000" stroke="#000" textLength="52" lengthAdjust="spacingAndGlyphs">24 Aug 2011</text>
<rect x="67" y="584" width="1" height="3" fill="#000000"/>
<text x="65.8" y="596" font-family="Liberation Sans, Arial, sans-serif" font-size="9.33" stroke-width="0.3" fill="#000" stroke="#000" textLength="55" lengthAdjust="spacingAndGlyphs">24 Aug 06:00</text>
<rect x="131" y="584" width="1" height="3" fill="#000000"/>
<text x="129.8" y="596" font-family="Liberation Sans, Arial, sans-serif" font-size="9.33" stroke-width="0.3" fill="#000" stroke="#000" textLength="55" lengthAdjust="spacingAndGlyphs">24 Aug 10:00</text>
<rect x="195" y="584" width="1" height="3" fill="#000000"/>
<text x="193.8" y="596" font-family="Liberation Sans, Arial, sans-serif" font-size="9.33" stroke-width="0.3" fill="#000" stroke="#000" textLength="55" lengthAdjust="spacingAndGlyphs">24 Aug 14:00</text>
<rect x="259" y="584" width="1" height="3" fill="#000000"/>
<text x="257.8" y="596" font-family="Liberation Sans, Arial, sans-serif" font-size="9.33" stroke-width="0.3" fill="#000" stroke="#000" textLength="55" lengthAdjust="spacingAndGlyphs">24 Aug 18:00</text>
<rect x="323" y="584" width="1" height="3" fill="#000000"/>
<text x="321.8" y="596" font-family="Liberation Sans, Arial, sans-serif" font-size="9.33" stroke-width="0.3" fill="#000" stroke="#000" textLength="55" lengthAdjust="spacingAndGlyphs">24 Aug 22:00</text>
<rect x="387" y="584" width="1" height="3" fill="#000000"/>
<text x="385.8" y="596" font-family="Liberation Sans, Arial, sans-serif" font-size="9.33" stroke-width="0.3" fill="#000" stroke="#000" textLength="55" lengthAdjust="spacingAndGlyphs">25 Aug 02:00</text>
<rect x="451" y="584" width="1" height="3" fill="#000000"/>
<text x="449.8" y="596" font-family="Liberation Sans, Arial, sans-serif" font-size="9.33" stroke-width="0.3" fill="#000" stroke="#000" textLength="55" lengthAdjust="spacingAndGlyphs">25 Aug 06:00</text>
<rect x="515" y="584" width="1" height="3" fill="#000000"/>
<text x="513.8" y="596" font-family="Liberation Sans, Arial, sans-serif" font-size="9.33" stroke-width="0.3" fill="#000" stroke="#000" textLength="55" lengthAdjust="spacingAndGlyphs">25 Aug 10:00</text>
<rect x="579" y="584" width="1" height="3" fill="#000000"/>
<text x="577.8" y="596" font-family="Liberation Sans, Arial, sans-serif" font-size="9.33" stroke-width="0.3" fill="#000" stroke="#000" textLength="55" lengthAdjust="spacingAndGlyphs">25 Aug 14:00</text>
<rect x="643" y="584" width="1" height="3" fill="#000000"/>
<text x="641.8" y="596" font-family="Liberation Sans, Arial, sans-serif" font-size="9.33" stroke-width="0.3" fill="#000" stroke="#000" textLength="55" lengthAdjust="spacingAndGlyphs">25 Aug 18:00</text>
<rect x="707" y="584" width="1" height="3" fill="#000000"/>
<text x="705.8" y="596" font-family="Liberation Sans, Arial, sans-serif" font-size="9.33" stroke-width="0.3" fill="#000" stroke="#000" textLength="55" lengthAdjust="spacingAndGlyphs">25 Aug 22:00</text>
<rect x="771" y="584" width="1" height="3" fill="#000000"/>
<text x="769.8" y="596" font-family="Liberation Sans, Arial, sans-serif" font-size="9.33" stroke-width="0.3" fill="#000" stroke="#000" textLength="55" lengthAdjust="spacingAndGlyphs">26 Aug 02:00</text>
<rect x="835" y="584" width="1" height="3" fill="#000000"/>
<text x="833.8" y="596" font-family="Liberation Sans, Arial, sans-serif" font-size="9.33" stroke-width="0.3" fill="#000" stroke="#000" textLength="55" lengthAdjust="spacingAndGlyphs">26 Aug 06:00</text>
<rect x="899" y="584" width="1" height="3" fill="#000000"/>
<text x="897.8" y="596" font-family="Liberation Sans, Arial, sans-serif" font-size="9.33" stroke-width="0.3" fill="#000" stroke="#000" textLength="55" lengthAdjust="spacingAndGlyphs">26 Aug 10:00</text>
<rect x="963" y="584" width="1" height="3" fill="#000000"/>
<text x="961.8" y="596" font-family="Liberation Sans, Arial, sans-serif" font-size="9.33" stroke-width="0.3" fill="#000" stroke="#000" textLength="55" lengthAdjust="spacingAndGlyphs">26 Aug 14:00</text>
<rect x="92" y="587" width="79" height="11" fill="#ff0000"/>
<text x="95" y="596" font-family="Liberation Sans, Arial, sans-serif" font-size="9.33" stroke-width="0.3" fill="#fff" stroke="#fff">2011.08.24 10:00</text>
</svg>
</body></html>
